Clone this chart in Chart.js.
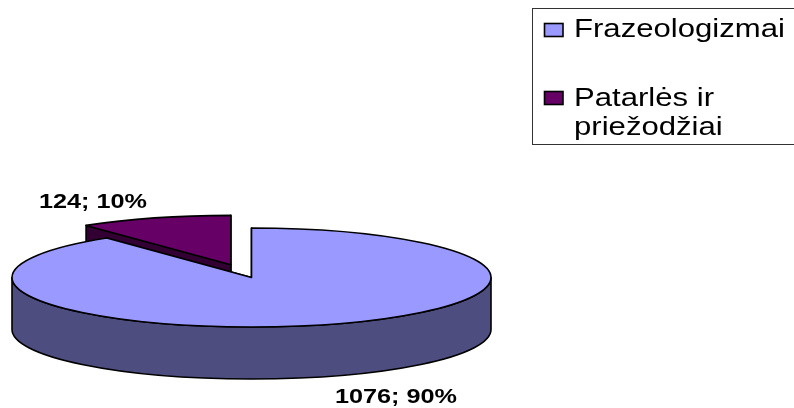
<!DOCTYPE html>
<html>
<head>
<meta charset="utf-8">
<style>html,body{margin:0;padding:0;background:#fff}canvas{display:block}</style>
<script src="https://cdn.jsdelivr.net/npm/chart.js@4"></script>
</head>
<body>
<canvas id="c" width="794" height="408"></canvas>
<script>
const categories = [["Frazeologizmai"], ["Patarlės ir", "priežodžiai"]];
const values = [1076, 124];
const percents = [90, 10];
const topColors = ["#9999FF", "#660066"];
const sideColors = ["#4D4D80", "#330033"];
const pulledOut = [0, 0.27];

const PIE = {cx: 251.5, cy: 277.5, rx: 239.5, ry: 49.5, depth: 52};
const LEGEND = {x: 532.5, y: 8.5, right: 800, bottom: 144.5};

function stretchedText(ctx, str, x, y, font, sx) {
  ctx.save();
  ctx.font = font;
  ctx.fillStyle = "#000";
  ctx.textBaseline = "alphabetic";
  ctx.textAlign = "left";
  ctx.translate(x, y);
  ctx.scale(sx, 1);
  ctx.fillText(str, 0, 0);
  ctx.restore();
}

const pie3d = {
  id: "pie3d",
  beforeDatasetsDraw(chart) {
    const ctx = chart.ctx;
    const arcs = chart.getDatasetMeta(0).data;
    const order = arcs.map((_, i) => i).reverse();
    order.forEach(i => {
      const el = arcs[i];
      const mid = (el.startAngle + el.endAngle) / 2;
      const ox = PIE.cx + Math.cos(mid) * pulledOut[i] * PIE.rx;
      const oy = PIE.cy + Math.sin(mid) * pulledOut[i] * PIE.ry;
      const px = t => ox + Math.cos(t) * PIE.rx;
      const py = t => oy + Math.sin(t) * PIE.ry;
      ctx.save();
      ctx.lineWidth = 1.6;
      ctx.lineJoin = "round";
      ctx.strokeStyle = "#000";
      ctx.fillStyle = sideColors[i];
      // cut faces
      [el.startAngle, el.endAngle].forEach(t => {
        ctx.beginPath();
        ctx.moveTo(ox, oy);
        ctx.lineTo(px(t), py(t));
        ctx.lineTo(px(t), py(t) + PIE.depth);
        ctx.lineTo(ox, oy + PIE.depth);
        ctx.closePath();
        ctx.fill();
        ctx.stroke();
      });
      // outer wall, front half only
      const a = Math.max(el.startAngle, 0), b = Math.min(el.endAngle, Math.PI);
      if (b > a) {
        ctx.beginPath();
        ctx.ellipse(ox, oy, PIE.rx, PIE.ry, 0, a, b, false);
        ctx.ellipse(ox, oy + PIE.depth, PIE.rx, PIE.ry, 0, b, a, true);
        ctx.closePath();
        ctx.fill();
        ctx.stroke();
      }
      // top face: the library's own arc, squashed
      ctx.save();
      ctx.translate(ox, oy);
      ctx.scale(PIE.rx / el.outerRadius, PIE.ry / el.outerRadius);
      ctx.translate(-el.x, -el.y);
      el.draw(ctx);
      ctx.restore();
      // top outline
      ctx.beginPath();
      ctx.moveTo(ox, oy);
      ctx.ellipse(ox, oy, PIE.rx, PIE.ry, 0, el.startAngle, el.endAngle, false);
      ctx.closePath();
      ctx.stroke();
      ctx.restore();
    });
    return false;
  },
  afterDraw(chart) {
    const ctx = chart.ctx;
    // data labels
    const labelFont = "bold 20.5px 'Liberation Sans'";
    stretchedText(ctx, values[1] + "; " + percents[1] + "%", 39, 208, labelFont, 1.23);
    stretchedText(ctx, values[0] + "; " + percents[0] + "%", 335, 403, labelFont, 1.23);
    // legend
    ctx.save();
    ctx.strokeStyle = "#333";
    ctx.lineWidth = 1;
    ctx.strokeRect(LEGEND.x, LEGEND.y, LEGEND.right - LEGEND.x, LEGEND.bottom - LEGEND.y);
    ctx.lineWidth = 1.6;
    ctx.strokeStyle = "#000";
    ctx.fillStyle = topColors[0];
    ctx.fillRect(544.5, 23.5, 18.5, 13);
    ctx.strokeRect(544.5, 23.5, 18.5, 13);
    ctx.fillStyle = topColors[1];
    ctx.fillRect(544.5, 91.5, 18.5, 13);
    ctx.strokeRect(544.5, 91.5, 18.5, 13);
    ctx.restore();
    const legendFont = "25.5px 'Liberation Sans'";
    stretchedText(ctx, categories[0][0], 574, 37, legendFont, 1.22);
    stretchedText(ctx, categories[1][0], 574, 106, legendFont, 1.22);
    stretchedText(ctx, categories[1][1], 574, 135, legendFont, 1.22);
  }
};

new Chart(document.getElementById("c"), {
  type: "pie",
  data: {
    labels: categories.map(c => c.join(" ")),
    datasets: [{data: values, backgroundColor: topColors, borderWidth: 0}]
  },
  options: {
    responsive: false,
    animation: false,
    events: [],
    plugins: {legend: {display: false}, tooltip: {enabled: false}}
  },
  plugins: [pie3d]
});
</script>
</body>
</html>
